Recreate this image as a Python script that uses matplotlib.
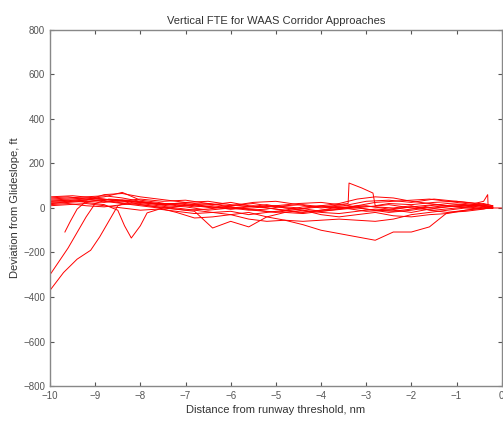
import matplotlib
matplotlib.use("Agg")
import matplotlib.pyplot as plt

plt.rcParams["font.family"] = ["Liberation Sans", "DejaVu Sans"]

# shared distance grid (nm from threshold) for the main band of approaches
x_grid = [-10.0, -9.6, -9.2, -8.8, -8.4, -8.0, -7.6, -7.2, -6.8, -6.4, -6.0, -5.6, -5.2,
          -4.8, -4.4, -4.0, -3.6, -3.2, -2.8, -2.4, -2.0, -1.6, -1.2, -0.8, -0.4, -0.2]

# vertical deviation (ft) for each approach on x_grid
band_a = [40, 45, 50, 55, 45, 30, 20, 15, 5, 10, 0, -10, -5, 10, 15, 5, 0, 10, 25, 30, 35, 40, 30, 20, 10, 5]
band_b = [25, 30, 35, 60, 65, 50, 40, 30, 20, 15, 25, 10, 0, -10, -20, -10, 5, 0, -10, -15, -5, 10, 20, 15, 0, 0]
band_c = [15, 20, 10, 5, 15, 20, 10, 0, -10, -20, -15, -30, -20, -10, 5, 10, 20, 40, 50, 45, 30, 20, 10, 5, 15, 0]
band_d = [10, 15, 20, 10, 0, -10, -5, -15, -25, -20, -30, -20, -40, -55, -75, -100, -115, -130, -145, -108, -108, -85, -20, -10, 0, 10]
band_e = [30, 35, 40, 30, 20, 10, 0, -20, -45, -40, -30, -50, -60, -55, -60, -55, -50, -55, -60, -50, -30, -20, -10, 0, 5, 0]
band_f = [20, 25, 30, 25, 35, 15, 5, -5, -15, -90, -60, -85, -40, -20, -10, -30, -40, -30, -20, -35, -40, -30, -25, -10, 0, 0]
band_g = [35, 40, 45, 40, 30, 25, 20, 20, 10, 0, 5, -5, -15, -20, -25, -15, -5, 10, 5, 0, 10, -10, -20, -15, -5, 5]
band_h = [45, 50, 40, 50, 70, 35, 25, 10, 15, 5, -5, 5, 15, 0, -10, -20, -25, -15, -5, -10, -20, -5, 5, 10, 20, 10]

# approaches that join the band late or have distinct excursions
low1_x = [-10.0, -9.7, -9.4, -9.1, -8.9, -8.7, -8.5, -8.2, -7.8, -7.4, -7.0, -6.5, -6.0, -5.5, -5.0,
          -4.5, -4.0, -3.5, -3.0, -2.5, -2.0, -1.5, -1.0, -0.5, -0.2]
low1_y = [-370, -290, -230, -190, -130, -60, 10, 30, 20, 10, 5, -10, 0, 10, -5,
          -20, -10, 0, 10, -5, 5, 0, 10, 15, 5]

low2_x = [-10.0, -9.8, -9.6, -9.4, -9.2, -9.0, -8.7, -8.3, -7.9, -7.5, -7.0, -6.5, -6.0, -5.5, -5.0,
          -4.5, -4.0, -3.5, -3.0, -2.5, -2.0, -1.5, -1.0, -0.5, -0.2]
low2_y = [-300, -240, -180, -110, -40, 20, 40, 35, 25, 15, 20, 5, -5, 0, 10,
          0, -15, -5, 5, 15, 0, -10, 0, 10, 0]

low3_x = [-9.67, -9.55, -9.4, -9.2, -8.9, -8.5, -8.0, -7.5, -7.0, -6.5, -6.0, -5.5, -5.0, -4.5,
          -4.0, -3.5, -3.0, -2.5, -2.0, -1.5, -1.0, -0.5, -0.2]
low3_y = [-108, -60, -5, 30, 35, 25, 15, 0, -10, -5, 10, 20, 5, -5,
          5, 15, -5, -20, -10, 5, 15, 10, 0]

dip_x = [-10.0, -9.6, -9.2, -8.8, -8.5, -8.35, -8.2, -8.0, -7.85, -7.5, -7.0, -6.5, -6.0, -5.5,
         -5.0, -4.5, -4.0, -3.5, -3.0, -2.5, -2.0, -1.5, -1.0, -0.5, -0.2]
dip_y = [30, 35, 25, 15, -10, -80, -135, -80, -22, 0, 10, 20, 5, -10,
         -20, -5, 10, 0, -15, -10, 5, 15, 5, -5, 0]

spike_x = [-10.0, -9.5, -9.0, -8.5, -8.0, -7.5, -7.0, -6.5, -6.0, -5.5, -5.0, -4.5, -4.0, -3.6,
           -3.4, -3.38, -3.1, -2.85, -2.8, -2.5, -2.0, -1.5, -1.0, -0.5, -0.2]
spike_y = [20, 30, 40, 35, 25, 15, 25, 30, 15, 5, 10, 20, 25, 15,
           20, 112, 90, 67, 10, 20, 15, 25, 30, 20, 10]

end_x = [-10.0, -9.5, -9.0, -8.5, -8.0, -7.5, -7.0, -6.5, -6.0, -5.5, -5.0, -4.5, -4.0, -3.5,
         -3.0, -2.5, -2.0, -1.5, -1.0, -0.6, -0.4, -0.31, -0.3, 0.0]
end_y = [50, 55, 45, 30, 40, 30, 35, 20, 10, 25, 30, 15, 0, 10,
         30, 35, 25, 40, 30, 20, 30, 60, 0, 0]

band = [band_a, band_b, band_c, band_d, band_e, band_f, band_g, band_h]
extra = [(low1_x, low1_y), (low2_x, low2_y), (low3_x, low3_y),
         (dip_x, dip_y), (spike_x, spike_y), (end_x, end_y)]

fig = plt.figure(figsize=(5.03, 4.21), dpi=100)
ax = fig.add_axes([0.0994, 0.083, 0.898, 0.846])

for ys in band:
    ax.plot(x_grid, ys, color="red", linewidth=0.7)
for xs, ys in extra:
    ax.plot(xs, ys, color="red", linewidth=0.7)

ax.set_xlim(-10, 0)
ax.set_ylim(-800, 800)
ax.set_xticks(range(-10, 1))
ax.set_yticks(range(-800, 801, 200))
ax.tick_params(direction="in", length=3, width=0.8, colors="#555555", labelsize=7,
               top=True, right=True)
for s in ax.spines.values():
    s.set_color("#888888")
    s.set_linewidth(1.0)

ax.set_title("Vertical FTE for WAAS Corridor Approaches", fontsize=8, color="#333333", pad=4)
ax.set_xlabel("Distance from runway threshold, nm", fontsize=8, color="#333333", labelpad=3)
ax.set_ylabel("Deviation from Glideslope, ft", fontsize=8, color="#333333", labelpad=2)

fig.savefig("out.png", dpi=100)
